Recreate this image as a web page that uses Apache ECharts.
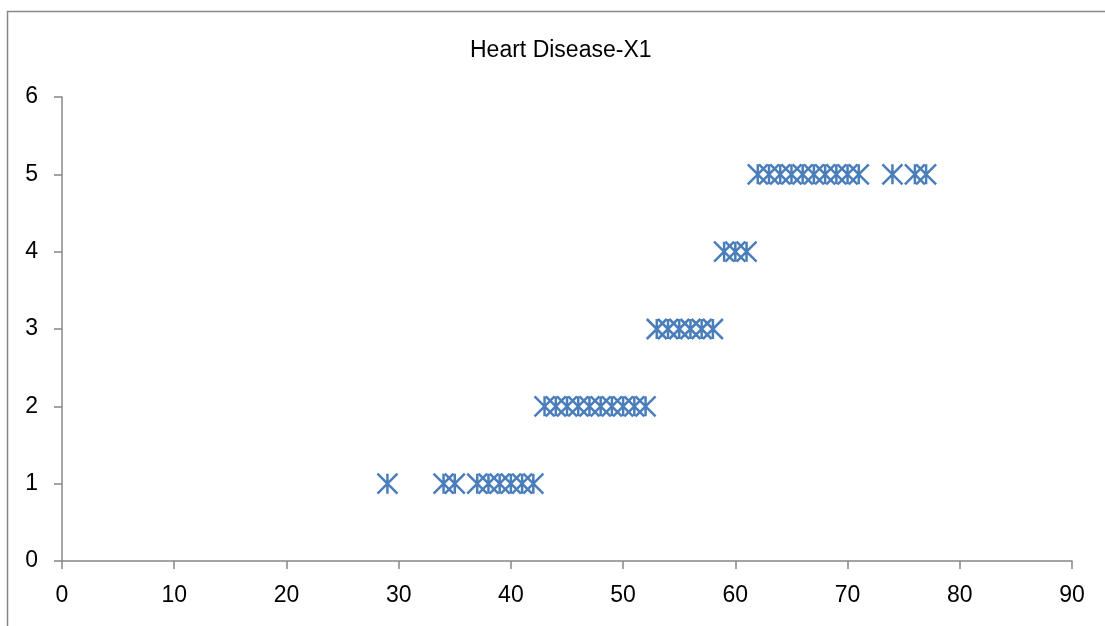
<!DOCTYPE html>
<html>
<head>
<meta charset="utf-8">
<script src="https://cdn.jsdelivr.net/npm/echarts@6/dist/echarts.min.js"></script>
<style>
  html, body { margin: 0; padding: 0; background: #fff; }
  #chart { width: 1105px; height: 626px; }
</style>
</head>
<body>
<div id="chart"></div>
<script>
// Age (X1) against heart-disease class
const chartTitle = 'Heart Disease-X1';
const ages = [
  29, 34, 35, 37, 38, 39, 40, 41, 42,
  43, 44, 45, 46, 47, 48, 49, 50, 51, 52,
  53, 54, 55, 56, 57, 58,
  59, 60, 61,
  62, 63, 64, 65, 66, 67, 68, 69, 70, 71, 74, 76, 77
];
const classes = [
  1, 1, 1, 1, 1, 1, 1, 1, 1,
  2, 2, 2, 2, 2, 2, 2, 2, 2, 2,
  3, 3, 3, 3, 3, 3,
  4, 4, 4,
  5, 5, 5, 5, 5, 5, 5, 5, 5, 5, 5, 5, 5
];
const xTicks = [0, 10, 20, 30, 40, 50, 60, 70, 80, 90];
const yTicks = [0, 1, 2, 3, 4, 5, 6];

const points = ages.map((a, i) => [a, classes[i]]);

// star marker: a cross with a vertical stroke through it
const starPath = 'path://M0,0L20,20M20,0L0,20M10,0L10,20';

const axisGray = '#878787';
const labelFont = { fontFamily: 'Liberation Sans', fontSize: 23, color: '#000' };

const chart = echarts.init(document.getElementById('chart'), null, { renderer: 'canvas' });
chart.setOption({
  animation: false,
  backgroundColor: '#fff',
  title: {
    text: chartTitle,
    left: 465,
    top: 34,
    textStyle: { fontFamily: 'Liberation Sans', fontSize: 23, fontWeight: 'normal', color: '#000' }
  },
  graphic: [{
    type: 'rect',
    shape: { x: 7.5, y: 11.5, width: 1200, height: 800 },
    style: { fill: 'none', stroke: axisGray, lineWidth: 1.5 },
    silent: true
  }],
  grid: { left: 62, right: 33, top: 97, bottom: 65 },
  xAxis: {
    type: 'value',
    min: xTicks[0],
    max: xTicks[xTicks.length - 1],
    interval: 10,
    axisLine: { show: true, lineStyle: { color: axisGray, width: 1.5 } },
    axisTick: { show: true, length: 8, lineStyle: { color: axisGray, width: 1.5 } },
    splitLine: { show: false },
    axisLabel: Object.assign({ margin: 23 }, labelFont)
  },
  yAxis: {
    type: 'value',
    min: yTicks[0],
    max: yTicks[yTicks.length - 1],
    interval: 1,
    axisLine: { show: true, lineStyle: { color: axisGray, width: 1.5 } },
    axisTick: { show: true, length: 8, lineStyle: { color: axisGray, width: 1.5 } },
    splitLine: { show: false },
    axisLabel: Object.assign({ margin: 24 }, labelFont)
  },
  series: [{
    type: 'scatter',
    data: points,
    symbol: starPath,
    symbolSize: 20,
    itemStyle: { color: 'rgba(0,0,0,0)', borderColor: '#4a7ebb', borderWidth: 2.5, opacity: 1 }
  }]
});
</script>
</body>
</html>
